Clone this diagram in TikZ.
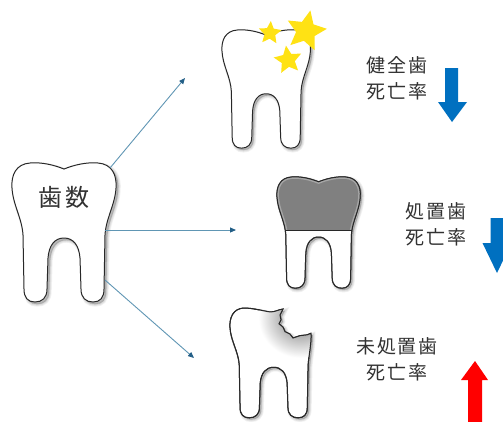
\documentclass[tikz,border=0pt]{standalone}
\usepackage{fontspec}
\usetikzlibrary{arrows.meta,shapes.geometric}
\newfontfamily\jpfont[LetterSpace=10]{Noto Sans CJK JP}
\newfontfamily\jpbig[LetterSpace=14]{Noto Sans CJK JP}

\definecolor{ink}{RGB}{40,40,40}
\definecolor{txt}{RGB}{50,50,50}
\definecolor{link}{RGB}{96,150,180}
\definecolor{linkhead}{RGB}{35,95,135}
\definecolor{downblue}{RGB}{0,112,192}
\definecolor{upred}{RGB}{255,0,0}
\definecolor{staryellow}{RGB}{255,226,20}
\definecolor{crown}{RGB}{128,128,128}

% outline of a molar, 104 wide and 139 high, y pointing down
\newcommand{\toothoutline}{(52,6)
  .. controls (62,2) and (74,-1) .. (86,0)
  .. controls (100,1) and (105,12) .. (104,25)
  .. controls (103,42) and (94,55) .. (93,72)
  -- (92,126)
  .. controls (92,135) and (88,139) .. (81,139)
  .. controls (74,139) and (69,135) .. (69,126)
  -- (68,95)
  .. controls (67,82) and (61,75) .. (52,75)
  .. controls (43,75) and (37,82) .. (36,95)
  -- (35,126)
  .. controls (35,135) and (30,139) .. (23,139)
  .. controls (16,139) and (12,135) .. (12,126)
  -- (11,72)
  .. controls (10,55) and (1,42) .. (0,25)
  .. controls (-1,12) and (4,1) .. (18,0)
  .. controls (30,-1) and (42,2) .. (52,6) -- cycle}

% the same molar with a broken corner on the right of the crown
\newcommand{\decayoutline}{(16,0)
  .. controls (28,0) and (40,4) .. (48,5)
  .. controls (54,5) and (58,2) .. (63,1.3)
  -- (59.5,9) -- (60.7,15) -- (58.3,20) -- (63,24) -- (65.5,30)
  -- (71.4,33) -- (75,38) -- (83.3,35) -- (91.7,34) -- (96.4,32)
  .. controls (97,45) and (94,58) .. (93,72)
  -- (92,126)
  .. controls (92,135) and (88,139) .. (81,139)
  .. controls (74,139) and (69,135) .. (69,126)
  -- (68,95)
  .. controls (67,82) and (61,75) .. (52,75)
  .. controls (43,75) and (37,82) .. (36,95)
  -- (35,126)
  .. controls (35,135) and (30,139) .. (23,139)
  .. controls (16,139) and (12,135) .. (12,126)
  -- (11,72)
  .. controls (10,55) and (1,42) .. (0,25)
  .. controls (-1,12) and (4,1) .. (16,0) -- cycle}

% soft shadow under an outline, built from a few translucent layers
\newcommand{\softshadow}[1]{%
  \foreach \w in {5,3.5,2,0.5}
    \path[fill=black, draw=black, opacity=0.05, line width=\w pt,
          shift={(2.2,2.2)}] #1;}

\tikzset{
  toothline/.style={draw=ink, line width=1pt, fill=white},
  link/.style={draw=link, line width=0.9pt,
      -{Triangle[length=6pt,width=5pt,color=linkhead]}},
  label/.style={font=\jpfont\fontsize{19}{26}\selectfont, text=txt,
      align=center, inner sep=0pt},
  sparkle/.style={star, star points=5, star point ratio=2.1,
      fill=staryellow, draw=none, inner sep=0pt},
}

\begin{document}
\begin{tikzpicture}[x=1pt, y=-1pt]
  \path[use as bounding box, fill=white] (0,0) rectangle (503,421);
  \clip (0,0) rectangle (503,421);

  % tooth count (left)
  \begin{scope}[shift={(12,163)}]
    \softshadow{\toothoutline}
    \path[toothline] \toothoutline;
  \end{scope}
  \node[font=\jpbig\fontsize{24}{30}\selectfont, text=txt, inner sep=0pt]
    (count) at (64,197) {歯数};

  % healthy tooth with sparkles
  \begin{scope}[shift={(222,30)}, scale=0.85]
    \softshadow{\toothoutline}
    \path[toothline] \toothoutline;
  \end{scope}
  \node[sparkle, minimum size=24pt, rotate=-4] (s1) at (270,33) {};
  \node[sparkle, minimum size=29pt, rotate=8] (s2) at (288,60) {};
  \node[sparkle, minimum size=42pt, rotate=-12] (s3) at (306,31) {};

  % treated tooth with a crown
  \begin{scope}[shift={(277,177)}, scale=0.8]
    \softshadow{\toothoutline}
    \path[toothline] \toothoutline;
    \begin{scope}
      \clip \toothoutline;
      \fill[crown] (-5,-5) rectangle (110,66);
      \draw[white, opacity=0.3, line width=4pt] \toothoutline;
      \draw[ink, line width=0.6pt] (-5,66) -- (110,66);
    \end{scope}
    \draw[ink, line width=1pt] \toothoutline;
  \end{scope}

  % untreated tooth with a broken corner
  \begin{scope}[shift={(230,308)}, xscale=0.84, yscale=0.79]
    \softshadow{\decayoutline}
    \path[toothline] \decayoutline;
    \begin{scope}
      \clip \decayoutline;
      \shade[inner color=black!55, outer color=white] (84,13) circle (50);
    \end{scope}
    \draw[ink, line width=1pt] \decayoutline;
  \end{scope}

  % connectors
  \coordinate (fromTop) at (110,168);
  \coordinate (toTop) at (185,78);
  \coordinate (fromMid) at (105,230);
  \coordinate (toMid) at (236,230);
  \coordinate (fromLow) at (105,280);
  \coordinate (toLow) at (194,358);
  \draw[link] (fromTop) -- (toTop);
  \draw[link] (fromMid) -- (toMid);
  \draw[link] (fromLow) -- (toLow);

  % labels
  \node[label] (healthy) at (397,78) {健全歯\\死亡率};
  \node[label] (treated) at (436,224.5) {処置歯\\死亡率};
  \node[label] (untreated) at (397,359.5) {未処置歯\\死亡率};

  % trend arrows
  \fill[downblue] (445,68) -- (458,68) -- (458,102) -- (467,102) -- (452,122)
    -- (438,102) -- (445,102) -- cycle;
  \fill[downblue] (490.5,218) -- (503.5,218) -- (503.5,243) -- (511.5,243)
    -- (497,273) -- (482.5,243) -- (490.5,243) -- cycle;
  \fill[upred] (475,361) -- (488,380) -- (482,380) -- (482,425) -- (468,425)
    -- (468,380) -- (461,380) -- cycle;
\end{tikzpicture}
\end{document}
